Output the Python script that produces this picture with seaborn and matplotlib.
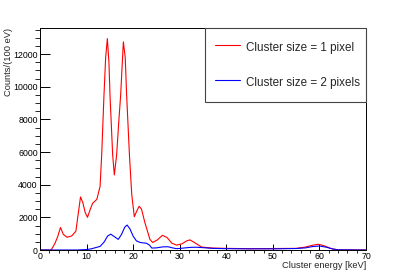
import pandas as pd
import matplotlib
matplotlib.use("Agg")
import matplotlib.pyplot as plt
from matplotlib.ticker import MultipleLocator
import seaborn as sns

# Spectrum knots (energy in keV, counts per 100 eV)
energy_1px = [0, 2.4, 3.2, 3.8, 4.4, 5.0, 5.8, 6.8, 7.7, 8.2, 8.7, 9.2, 9.7, 10.2,
              10.8, 11.3, 12.2, 12.9, 13.24, 13.74, 14.1, 14.46, 14.8, 15.03, 15.6,
              15.96, 16.46, 16.9, 17.32, 17.9, 18.3, 18.6, 19.2, 19.7, 20.25, 20.8,
              21.3, 21.8, 22.5, 23.6, 24.2, 25.2, 26.3, 27.3, 28.3, 29.3, 30.5, 31.5,
              32.2, 33.2, 34.7, 37, 40, 45, 50, 55, 57, 58.5, 59.8, 61, 62.5, 64, 70]
counts_1px = [0, 0, 400, 820, 1380, 960, 780, 860, 1150, 2200, 3250, 2900, 2300, 2000,
              2500, 2860, 3100, 3900, 5800, 9500, 11800, 12950, 11500, 9500, 5840,
              4600, 5840, 7800, 9500, 12750, 11800, 9500, 5840, 3400, 2040, 2400,
              2680, 2500, 1700, 650, 460, 620, 900, 760, 420, 300, 380, 560,
              620, 450, 180, 120, 100, 80, 90, 100, 180, 290, 350, 260, 90, 10, 0]

energy_2px = [0, 8, 10, 11, 12, 12.9, 13.8, 14.5, 15.2, 15.8, 16.8, 17.5, 18.2, 18.7,
              19.3, 20, 20.7, 21.5, 22.9, 23.5, 24, 25, 26.3, 27.5, 28.3, 29.3, 30.5,
              32.2, 33.5, 34.7, 37, 40, 45, 50, 55, 57, 58.5, 60, 61.5, 63, 64, 70]
counts_2px = [0, 0, 30, 70, 150, 220, 500, 850, 970, 850, 650, 950, 1400, 1530,
              1300, 850, 560, 460, 410, 300, 120, 130, 190, 200, 140, 80, 110,
              160, 170, 150, 100, 80, 70, 70, 90, 130, 210, 245, 170, 50, 10, 0]

labels = ["Cluster size = 1 pixel", "Cluster size = 2 pixels"]

df = pd.concat([
    pd.DataFrame({"energy": energy_1px, "counts": counts_1px, "series": labels[0]}),
    pd.DataFrame({"energy": energy_2px, "counts": counts_2px, "series": labels[1]}),
])

sns.set_theme(style="ticks")
plt.rcParams["font.family"] = ["Liberation Sans", "DejaVu Sans"]

fig, ax = plt.subplots(figsize=(4.07, 2.78), dpi=100)
fig.subplots_adjust(left=40/407, right=366/407, bottom=1-250/278, top=1-28/278)

sns.lineplot(data=df, x="energy", y="counts", hue="series",
             palette={labels[0]: "#ff0000", labels[1]: "#0000ff"},
             estimator=None, sort=False, linewidth=0.8, ax=ax)

ax.set_xlim(0, 70)
ax.set_ylim(0, 13600)
ax.xaxis.set_major_locator(MultipleLocator(10))
ax.xaxis.set_minor_locator(MultipleLocator(2))
ax.yaxis.set_major_locator(MultipleLocator(2000))
ax.yaxis.set_minor_locator(MultipleLocator(500))

ax.tick_params(axis="both", direction="in", labelsize=6.3, colors="black")
ax.tick_params(axis="y", which="major", length=7.2, width=0.7, pad=1.7)
ax.tick_params(axis="y", which="minor", length=3.6, width=0.7)
ax.tick_params(axis="x", which="major", length=4.3, width=0.7, pad=1.5)
ax.tick_params(axis="x", which="minor", length=2.2, width=0.7)

for side in ["left", "right", "top", "bottom"]:
    ax.spines[side].set_visible(True)
    ax.spines[side].set_color("black")
    ax.spines[side].set_linewidth(0.7)

ax.set_xlabel("Cluster energy [keV]", fontsize=6.7, loc="right")
ax.set_ylabel("Counts/(100 eV)", fontsize=6.7, loc="top")
ax.xaxis.set_label_coords(1.0, -0.05)
ax.yaxis.set_label_coords(-0.084, 1.0)

handles, _ = ax.get_legend_handles_labels()
leg = ax.legend(handles, labels, loc="upper left",
                bbox_to_anchor=(165/326, 0, 161/326, 1.0), mode="expand",
                fontsize=8.4, frameon=True, fancybox=False, framealpha=1,
                edgecolor="#444444", borderpad=0.86, handleheight=2.07,
                labelspacing=1.43, handlelength=2.14, handletextpad=0.5,
                borderaxespad=0)
leg.get_frame().set_linewidth(0.8)

plt.savefig("out.png", dpi=100)
plt.close()
